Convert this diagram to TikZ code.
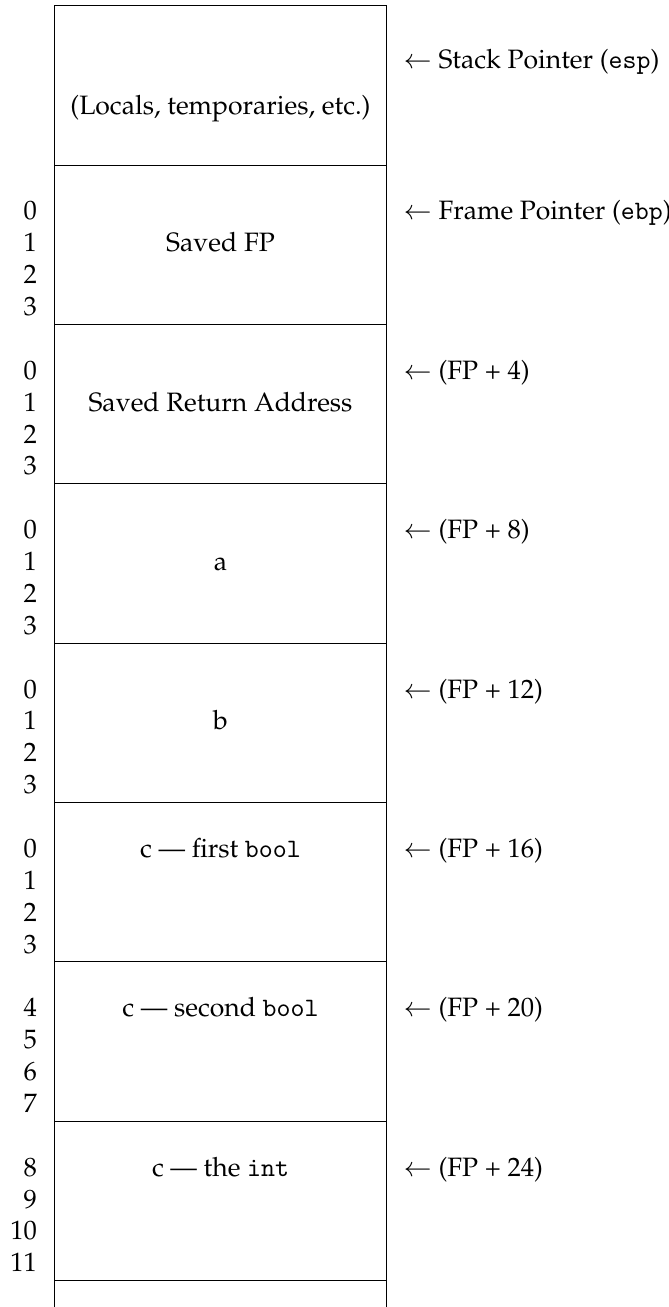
\documentclass[tikz,border=0pt]{standalone}
\usepackage[T1]{fontenc}
\usepackage{mathpazo}
% typewriter words in Computer Modern Typewriter
\newcommand{\code}[1]{{\fontencoding{OT1}\fontfamily{cmtt}\selectfont #1}}
\begin{document}
\begin{tikzpicture}[x=0.37647pt,y=-0.37647pt,
  frame/.style={line width=0.4pt},
  offs/.style={anchor=base east, inner sep=0pt},
  cell/.style={anchor=base, inner sep=0pt},
  ptr/.style={anchor=base west, inner sep=0pt}]
\useasboundingbox (0,0) rectangle (668,1307);

% row boundaries of the stack frame
\foreach \k in {0,...,8}
  \coordinate (r\k) at (54.3,{5.7+159.375*\k});
\draw[frame] (54.3,1307) -- (r0) -- (386.7,5.7) -- (386.7,1307);
\foreach \k in {1,...,8}
  \draw[frame] (r\k) -- ++(332.4,0);

% byte offsets beside each word
\foreach \k/\first in {1/0,2/0,3/0,4/0,5/0,6/4,7/8} {
  \foreach \j in {0,1,2,3} {
    \pgfmathsetmacro\yy{5.7+159.375*\k+23+31.875*(\j+1)}
    \pgfmathtruncatemacro\n{\first+\j}
    \node[offs] (n-\k-\j) at (37.5,\yy) {\n};
  }
}

% contents of each slot
\node[cell] (locals) at (220.5,115)    {(Locals, temporaries, etc.)};
\node[cell] (savedfp) at (220.5,251.8) {Saved FP};
\node[cell] (retaddr) at (220.5,411.2) {Saved Return Address};
\node[cell] (arga) at (220.5,570.6)    {a};
\node[cell] (argb) at (220.5,729.95)   {b};
\node[cell] (c1) at (220.5,857.45)     {c --- first \code{bool}};
\node[cell] (c2) at (220.5,1016.8)     {c --- second \code{bool}};
\node[cell] (c3) at (220.5,1176.2)     {c --- the \code{int}};

% pointer annotations
\node[ptr] (sp) at (403,69)      {$\leftarrow$ Stack Pointer (\code{esp})};
\node[ptr] (fp) at (403,219.95)  {$\leftarrow$ Frame Pointer (\code{ebp})};
\node[ptr] (fp4) at (403,379.3)  {$\leftarrow$ (FP + 4)};
\node[ptr] (fp8) at (403,538.7)  {$\leftarrow$ (FP + 8)};
\node[ptr] (fp12) at (403,698.1) {$\leftarrow$ (FP + 12)};
\node[ptr] (fp16) at (403,857.45) {$\leftarrow$ (FP + 16)};
\node[ptr] (fp20) at (403,1016.8) {$\leftarrow$ (FP + 20)};
\node[ptr] (fp24) at (403,1176.2) {$\leftarrow$ (FP + 24)};
\end{tikzpicture}
\end{document}
